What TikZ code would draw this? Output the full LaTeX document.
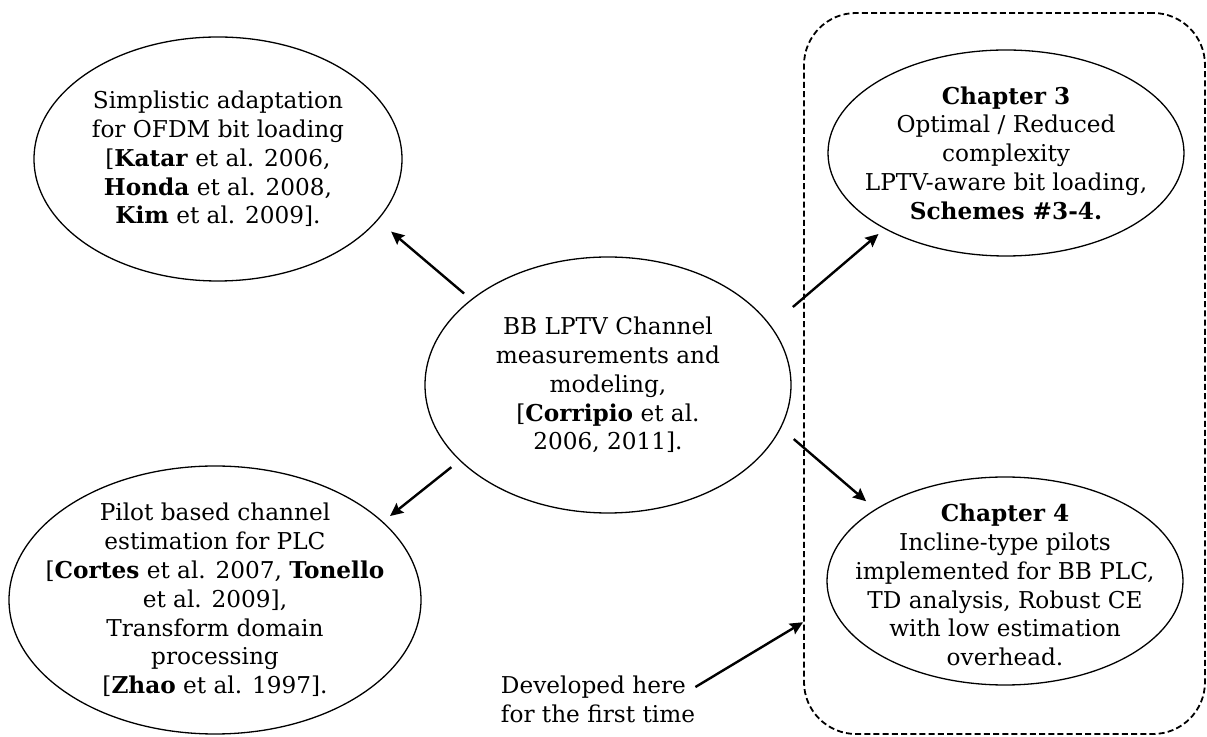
\documentclass[tikz,border=0pt]{standalone}
\usepackage{fontspec}
\setmainfont{DejaVu Serif}
\usepackage{tikz}
\usetikzlibrary{arrows.meta,shapes.geometric}
\newcommand{\elfont}{\fontsize{11.6}{14.4}\selectfont}

\begin{document}
\begin{tikzpicture}[x=0.5pt,y=-0.5pt, % 1 unit = 1 pixel of the sketch
	el/.style={draw,ellipse,line width=0.65pt,inner sep=0pt},
	txt/.style={align=center,font=\elfont,inner sep=0pt},
	ar/.style={-{Stealth[length=6.5pt,width=6pt,inset=1pt]},line width=1.2pt}]
	\useasboundingbox (0,0) rectangle (1207,737);
	\node[draw,dashed,dash pattern=on 3pt off 1.6pt,line width=0.9pt,rounded corners=26pt,
		minimum width=200.5pt,minimum height=360.5pt,inner sep=0pt] (R) at (1004.5,373.5) {};
	\node[el,minimum width=184pt,minimum height=122pt] (E1) at (218,159) {};
	\node[el,minimum width=178pt,minimum height=103pt] (E2) at (1006,153) {};
	\node[el,minimum width=183pt,minimum height=128pt] (E0) at (608,385) {};
	\node[el,minimum width=206pt,minimum height=134pt] (E3) at (215,600) {};
	\node[el,minimum width=178pt,minimum height=104pt] (E4) at (1005,581) {};
	\node[txt] (T1) at (E1) {Simplistic adaptation\\for OFDM bit loading\\{[}\textbf{Katar} et al. 2006,\\\textbf{Honda} et al. 2008,\\\textbf{Kim} et al. 2009].};
	\node[txt] (T2) at (E2) {\textbf{Chapter 3}\\Optimal / Reduced\\complexity\\LPTV-aware bit loading,\\\textbf{Schemes \#3-4.}};
	\node[txt] (T0) at (E0) {BB LPTV Channel\\measurements and\\modeling,\\{[}\textbf{Corripio} et al.\\2006, 2011].};
	\node[txt] (T3) at (E3) {Pilot based channel\\estimation for PLC\\{[}\textbf{Cortes} et al. 2007, \textbf{Tonello}\\et al. 2009],\\Transform domain\\processing\\{[}\textbf{Zhao} et al. 1997].};
	\node[txt] (T4) at (1005,585) {\textbf{Chapter 4}\\Incline-type pilots\\implemented for BB PLC,\\TD analysis, Robust CE\\with low estimation\\overhead.};
	\node[txt,align=left] (D) at (598,699) {Developed here\\for the first time};
	\draw[ar,shorten <=4.5pt,shorten >=8.7pt] (E0.148.6) -- (E1.-21.75);
	\draw[ar,shorten <=5.2pt,shorten >=4.5pt] (E0.-153.9) -- (E3.25.5);
	\draw[ar,shorten <=14.4pt,shorten >=3.9pt] (E0.20.1) -- (E2.-148.5);
	\draw[ar,shorten <=8.4pt,shorten >=6pt] (E0.-14.9) -- (E4.151.2);
	\draw[ar] (D.7.8) -- (R.231.4);
\end{tikzpicture}
\end{document}
